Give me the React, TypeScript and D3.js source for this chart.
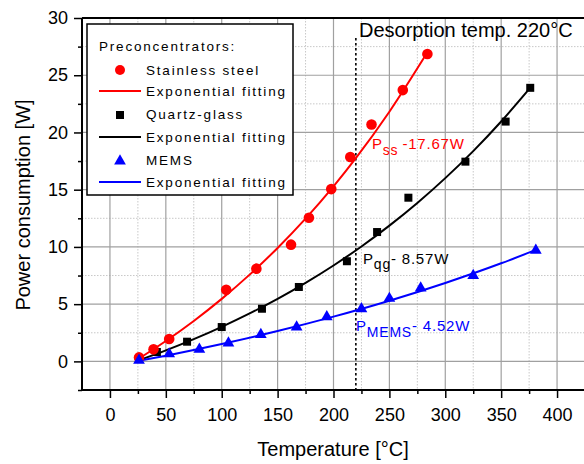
import React, { useEffect, useRef } from "react";
import * as d3 from "d3";

// measured points
const tempSS = [26, 39, 53, 104, 131, 162, 178, 198, 215, 234, 262, 284];
const powerSS = [0.35, 1.05, 1.95, 6.25, 8.1, 10.2, 12.55, 15.05, 17.85, 20.7, 23.7, 26.85];
const tempQG = [42, 69, 100, 136, 169, 212, 239, 267, 318, 354, 376];
const powerQG = [0.82, 1.72, 3.0, 4.6, 6.5, 8.75, 11.3, 14.3, 17.45, 20.95, 23.9];
const tempMEMS = [26, 53, 80, 106, 135, 167, 194, 225, 250, 278, 325, 381];
const powerMEMS = [0.1, 0.65, 1.05, 1.6, 2.35, 3.0, 3.9, 4.6, 5.5, 6.4, 7.5, 9.7];

// fitted curves
const fitTempSS = [26, 50, 75, 100, 125, 150, 175, 200, 220, 250, 284];
const fitSS = [0.25, 1.78, 3.53, 5.46, 7.58, 9.91, 12.47, 15.29, 17.75, 21.81, 27.0];
const fitTempQG = [26, 50, 75, 100, 125, 150, 175, 200, 225, 250, 275, 300, 325, 350, 376];
const fitQG = [0.1, 0.96, 1.94, 3.02, 4.19, 5.46, 6.86, 8.38, 10.04, 11.86, 13.84, 16.01, 18.37, 20.96, 23.9];
const fitTempMEMS = [26, 50, 100, 150, 200, 250, 300, 350, 380];
const fitMEMS = [0.05, 0.5, 1.52, 2.65, 3.91, 5.3, 6.85, 8.57, 9.7];

const xMajor = [0, 50, 100, 150, 200, 250, 300, 350, 400];
const xMinor = [25, 75, 125, 175, 225, 275, 325, 375, 425];
const yMajor = [0, 5, 10, 15, 20, 25, 30];
const yMinor = [-2.5, 2.5, 7.5, 12.5, 17.5, 22.5, 27.5];
const desorptionTemp = 220;

const FONT = "Arial, 'Liberation Sans', sans-serif";

const App = () => {
  const xAxisRef = useRef<SVGGElement>(null);
  const yAxisRef = useRef<SVGGElement>(null);

  const x = d3.scaleLinear().domain([-25, 425]).range([82, 585]);
  const y = d3.scaleLinear().domain([-2.5, 30]).range([390, 18]);

  useEffect(() => {
    const gx = d3.select(xAxisRef.current);
    gx.selectAll("*").remove();
    gx.call(d3.axisBottom(x).tickValues(xMajor).tickSize(8).tickPadding(10).tickFormat(d3.format("d")));
    gx.append("g")
      .call(d3.axisBottom(x).tickValues(xMinor).tickSize(4).tickFormat(() => ""))
      .select(".domain").remove();
    gx.selectAll("text").attr("font-size", 18).attr("font-family", FONT).attr("fill", "#000");
    gx.selectAll("line").attr("stroke-width", 1.5);
    gx.select(".domain").attr("stroke-width", 2).attr("d", `M82,0H585`);

    const gy = d3.select(yAxisRef.current);
    gy.selectAll("*").remove();
    gy.call(d3.axisLeft(y).tickValues(yMajor).tickSize(8).tickPadding(6).tickFormat(d3.format("d")));
    gy.append("g")
      .call(d3.axisLeft(y).tickValues(yMinor).tickSize(4).tickFormat(() => ""))
      .select(".domain").remove();
    gy.selectAll("text").attr("font-size", 18).attr("font-family", FONT).attr("fill", "#000");
    gy.selectAll("line").attr("stroke-width", 1.5);
    gy.select(".domain").attr("stroke-width", 2).attr("d", `M0,18V390`);
  }, []);

  const line = (xs: number[], ys: number[]) =>
    d3
      .line<number>()
      .x((d, i) => x(xs[i]))
      .y((d) => y(d))
      .curve(d3.curveMonotoneX)(ys) || "";

  const tri = d3.symbol().type(d3.symbolTriangle).size(60)() || "";

  return (
    <svg
      width={584}
      height={464}
      style={{ position: "absolute", left: 0, top: 0, background: "#fff" }}
      fontFamily={FONT}
    >
      {/* grid */}
      <g>
        {xMinor.slice(0, -1).map((v) => (
          <line key={"xm" + v} x1={x(v)} x2={x(v)} y1={18} y2={390} stroke="#c8c8c8" strokeDasharray="1.5,1.5" />
        ))}
        {yMinor.slice(1).map((v) => (
          <line key={"ym" + v} x1={82} x2={585} y1={y(v)} y2={y(v)} stroke="#c8c8c8" strokeDasharray="1.5,1.5" />
        ))}
        {xMajor.map((v) => (
          <line key={"xg" + v} x1={x(v)} x2={x(v)} y1={18} y2={390} stroke="#a0a0a0" strokeWidth={1.2} />
        ))}
        {yMajor.slice(0, -1).map((v) => (
          <line key={"yg" + v} x1={82} x2={585} y1={y(v)} y2={y(v)} stroke="#a0a0a0" strokeWidth={1.2} />
        ))}
      </g>
      {/* top border */}
      <line x1={82} x2={585} y1={y(30)} y2={y(30)} stroke="#000" strokeWidth={2} />
      {/* desorption line */}
      <line
        x1={x(desorptionTemp)}
        x2={x(desorptionTemp)}
        y1={38}
        y2={390}
        stroke="#000"
        strokeWidth={1.6}
        strokeDasharray="2.5,2.5"
      />
      <text x={359} y={37} fontSize={20} fill="#000">
        Desorption temp. 220°C
      </text>

      {/* fits */}
      <path d={line(fitTempSS, fitSS)} fill="none" stroke="#ff0000" strokeWidth={2} />
      <path d={line(fitTempQG, fitQG)} fill="none" stroke="#000" strokeWidth={2} />
      <path d={line(fitTempMEMS, fitMEMS)} fill="none" stroke="#0000ff" strokeWidth={2} />

      {/* markers */}
      {tempQG.map((t, i) => (
        <rect key={"q" + i} x={x(t) - 4} y={y(powerQG[i]) - 4} width={8} height={8} fill="#000" />
      ))}
      {tempSS.map((t, i) => (
        <circle key={"s" + i} cx={x(t)} cy={y(powerSS[i])} r={5.3} fill="#ff0000" />
      ))}
      {tempMEMS.map((t, i) => (
        <path key={"m" + i} d={tri} transform={`translate(${x(t)},${y(powerMEMS[i])})`} fill="#0000ff" />
      ))}

      {/* annotations */}
      <g fontSize={15} letterSpacing={0.8}>
        <text x={372} y={149} fill="#ff0000">
          P<tspan fontSize={14} dy={6}>ss</tspan>
          <tspan dx={4} dy={-6}>-17.67W</tspan>
        </text>
        <text x={363} y={264} fill="#000">
          P<tspan fontSize={14} dy={5}>qg</tspan>
          <tspan dy={-5}>- 8.57W</tspan>
        </text>
        <text x={356} y={331} fill="#0000ff">
          P<tspan fontSize={14} dy={6}>MEMS</tspan>
          <tspan dy={-6}>- 4.52W</tspan>
        </text>
      </g>

      {/* legend */}
      <g>
        <rect x={87} y={24} width={206} height={171} fill="#fff" stroke="#000" strokeWidth={1.5} />
        <g fontSize={13.5} letterSpacing={1.8} fill="#000">
          <text x={99} y={51}>Preconcentrators:</text>
          <circle cx={120} cy={70} r={5} fill="#ff0000" />
          <text x={146} y={75}>Stainless steel</text>
          <line x1={99} x2={141} y1={91} y2={91} stroke="#ff0000" strokeWidth={2} />
          <text x={146} y={96}>Exponential fitting</text>
          <rect x={116} y={111} width={8} height={8} fill="#000" />
          <text x={146} y={119}>Quartz-glass</text>
          <line x1={99} x2={141} y1={137} y2={137} stroke="#000" strokeWidth={2} />
          <text x={146} y={142}>Exponential fitting</text>
          <path d={tri} transform="translate(120,161)" fill="#0000ff" />
          <text x={146} y={165}>MEMS</text>
          <line x1={99} x2={141} y1={182} y2={182} stroke="#0000ff" strokeWidth={2} />
          <text x={146} y={187}>Exponential fitting</text>
        </g>
      </g>

      {/* axes */}
      <g ref={xAxisRef} transform={`translate(0,390)`} />
      <g ref={yAxisRef} transform={`translate(82,0)`} />

      {/* axis titles */}
      <text x={333} y={456} textAnchor="middle" fontSize={20} fill="#000">
        Temperature [°C]
      </text>
      <text transform="translate(30,205) rotate(-90)" textAnchor="middle" fontSize={20} fill="#000">
        Power consumption [W]
      </text>
    </svg>
  );
};

export default App;
